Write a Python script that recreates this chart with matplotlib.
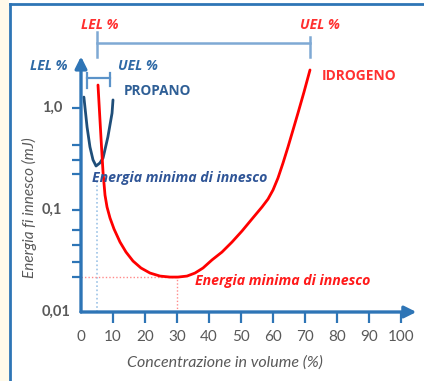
import numpy as np
import matplotlib
matplotlib.use("Agg")
import matplotlib.pyplot as plt
from matplotlib.patches import Rectangle

plt.rcParams['font.family'] = ['Lato', 'DejaVu Sans']
ALT_FAMILY = ['Open Sans', 'DejaVu Sans']

# Hydrogen: minimum ignition energy (mJ) vs concentration (% vol)
h2_conc = [5.31, 6.25, 6.88, 7.5, 8.13, 9.06, 10.31, 12.19, 14.06, 16.25, 18.75,
           21.56, 24.69, 27.81, 30.31, 33.13, 35.63, 38.13, 40.94, 44.06, 47.19,
           50.31, 53.44, 56.56, 58.44, 60.0, 61.56, 63.13, 64.69, 66.25, 67.81,
           69.69, 71.56]
h2_energy = [1.68, 0.508, 0.236, 0.140, 0.107, 0.0836, 0.0652, 0.0485, 0.0387,
             0.0316, 0.0270, 0.0241, 0.0225, 0.0220, 0.0220, 0.0225, 0.0241, 0.0270,
             0.0324, 0.0387, 0.0485, 0.0622, 0.0817, 0.107, 0.128, 0.157, 0.206,
             0.289, 0.415, 0.608, 0.893, 1.435, 2.36]

# Propane: minimum ignition energy (mJ) vs concentration (% vol)
c3_conc = [0.9, 1.9, 2.8, 3.75, 4.7, 5.9, 6.9, 8.4, 9.7, 10.0]
c3_energy = [1.28, 0.65, 0.415, 0.31, 0.27, 0.289, 0.324, 0.52, 0.89, 1.2]

# Flammability limits (% vol)
h2_lel, h2_uel = 5.0, 71.5
c3_lel, c3_uel = 2.0, 9.1
h2_min_conc, h2_min_energy = 30.0, 0.022

x_ticks = [0, 10, 20, 30, 40, 50, 60, 70, 80, 90, 100]
y_major = [1.0, 0.1, 0.01]
y_major_labels = ["1,0", "0,1", "0,01"]
y_minor = [0.43, 0.31, 0.225, 0.064, 0.045, 0.031, 0.022]

BLUE = '#2e75b6'
DARK = '#1f4e79'
RED = '#ff0000'
GRAY = '#595959'

W, H = 424, 381
fig = plt.figure(figsize=(W / 100, H / 100), dpi=100)
fig.patch.set_facecolor('white')

# cream strip and blue frame
fig.patches.append(Rectangle((0, 0), 9 / W, 1, transform=fig.transFigure,
                             facecolor='#fffaea', edgecolor='none', zorder=0))
fig.add_artist(plt.Line2D([10 / W, 10 / W], [0, 1 - 3.5 / H], color=BLUE, lw=2.0,
                          transform=fig.transFigure))
fig.add_artist(plt.Line2D([10 / W, 1], [1 - 3.5 / H, 1 - 3.5 / H], color=BLUE, lw=2.0,
                          transform=fig.transFigure))

x0, x1 = 81, 401
y0, y1 = 312, 6
ax = fig.add_axes([x0 / W, (H - y0) / H, (x1 - x0) / W, (y0 - y1) / H])
ax.set_xlim(0, 100)
ax.set_yscale('log')
ax.set_ylim(0.01, 10)
ax.axis('off')

# axes with arrows
ax.annotate('', xy=(104.8, 0.01), xytext=(0, 0.01),
            arrowprops=dict(arrowstyle='-|>,head_length=0.7,head_width=0.35',
                            color=BLUE, lw=2.4, shrinkA=0, shrinkB=0),
            annotation_clip=False)
ax.annotate('', xy=(0, 3.2), xytext=(0, 0.01),
            arrowprops=dict(arrowstyle='-|>,head_length=0.7,head_width=0.35',
                            color=BLUE, lw=2.4, shrinkA=0, shrinkB=0),
            annotation_clip=False)

# ticks
tick_len_y = 10 ** (11 / 102)
for xv in x_ticks:
    if xv > 0:
        ax.plot([xv, xv], [0.01, 0.01 / tick_len_y], color=BLUE, lw=1.6,
                clip_on=False, solid_capstyle='butt')
    ax.text(xv, 0.01 / 10 ** (25 / 102), str(xv), ha='center', va='center',
            fontsize=11, color=GRAY)
for yv in y_major[:2] + y_minor:
    ax.plot([-2.9, 0], [yv, yv], color=BLUE, lw=1.6, clip_on=False,
            solid_capstyle='butt')
for yv, lab in zip(y_major, y_major_labels):
    ax.text(-12.2, yv, lab, ha='left', va='center', fontsize=10.5, color=GRAY,
            fontweight='bold')

ax.text(-16.0, 0.1 * 10 ** (2 / 102), 'Energia fi innesco (mJ)', rotation=90,
        ha='center', va='center', fontsize=11, color=GRAY, style='italic')
ax.text(45, 0.01 / 10 ** (51 / 102), 'Concentrazione in volume (%)',
        ha='center', va='center', fontsize=11.5, color=GRAY, style='italic')

# reference dotted lines
ax.plot([h2_lel, h2_lel], [0.01, 0.2], color='#9dc3e6', lw=1.2, ls=(0, (1, 1.5)))
ax.plot([0, h2_min_conc], [h2_min_energy, h2_min_energy], color='#ff8a8a', lw=1.0,
        ls=(0, (1, 1.5)))
ax.plot([h2_min_conc, h2_min_conc], [0.01, h2_min_energy], color='#ff8a8a', lw=1.0,
        ls=(0, (1, 1.5)))

# curves
ax.plot(c3_conc, c3_energy, color=DARK, lw=2.0, solid_capstyle='round',
        solid_joinstyle='round')
ax.plot(h2_conc, h2_energy, color=RED, lw=2.0, solid_capstyle='round',
        solid_joinstyle='round')

# flammability range brackets
def bracket(xa, xb, yv, ya_lo, ya_hi, yb_lo, yb_hi, color, lw):
    ax.plot([xa, xb], [yv, yv], color=color, lw=lw, clip_on=False)
    ax.plot([xa, xa], [ya_lo, ya_hi], color=color, lw=lw, clip_on=False)
    ax.plot([xb, xb], [yb_lo, yb_hi], color=color, lw=lw, clip_on=False)

bracket(h2_lel, h2_uel, 4.34, 3.16, 5.56, 3.16, 4.97, '#7fa9d4', 1.8)
bracket(c3_lel, c3_uel, 1.97, 1.57, 2.2, 1.65, 2.2, '#5b93c9', 1.6)

# labels
bi = dict(fontweight='bold', style='italic', family=ALT_FAMILY)
bd = dict(fontweight='bold', family=ALT_FAMILY)
ax.text(5.9, 6.5, 'LEL %', ha='center', va='center', fontsize=10, color='#ff3030',
        **bi)
ax.text(74.7, 6.5, 'UEL %', ha='center', va='center', fontsize=10, color='#ff3030',
        **bi)
ax.text(-10, 2.58, 'LEL %', ha='center', va='center', fontsize=10, color='#2f6aa6',
        **bi)
ax.text(17.8, 2.58, 'UEL %', ha='center', va='center', fontsize=10, color='#2f6aa6',
        **bi)
ax.text(13.4, 1.47, 'PROPANO', ha='left', va='center', fontsize=9.8, color='#2f5f96',
        **bd)
ax.text(75.3, 2.06, 'IDROGENO', ha='left', va='center', fontsize=9.9, color='#ff3030',
        **bd)
ax.text(3.4, 0.206, 'Energia minima di innesco', ha='left', va='center', fontsize=10.2,
        color='#2f5597', **bi)
ax.text(35.6, 0.0201, 'Energia minima di innesco', ha='left', va='center',
        fontsize=10.2, color='#ff1a1a', **bi)

fig.savefig('out.png', dpi=100, facecolor='white')
